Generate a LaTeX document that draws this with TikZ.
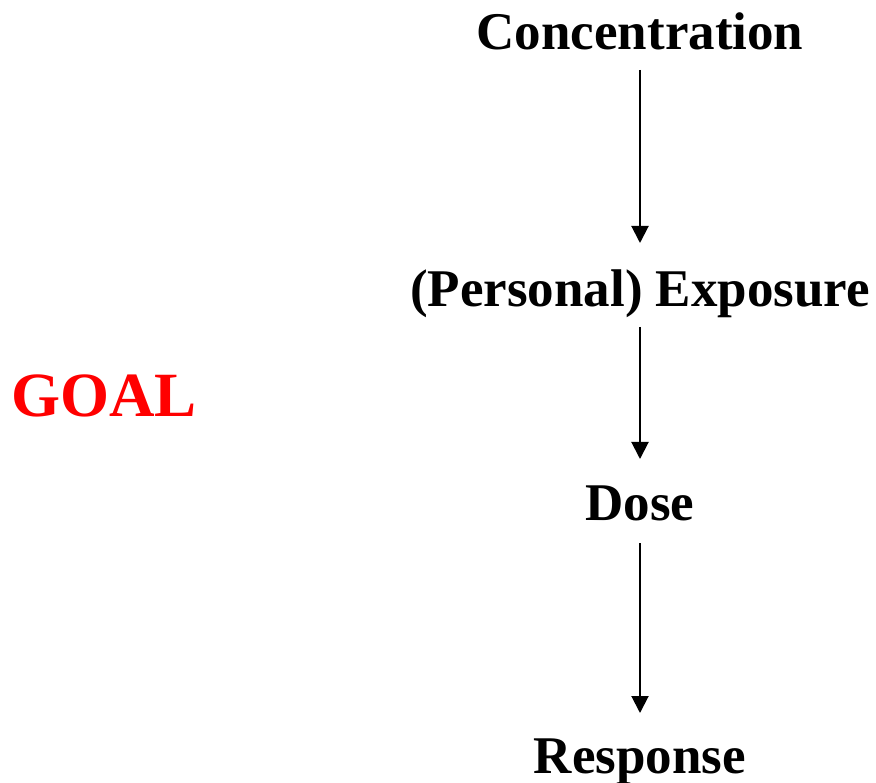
\documentclass[tikz,border=0pt]{standalone}
\usepackage{fontspec}
\setmainfont{Liberation Serif}
\usetikzlibrary{arrows.meta}
\begin{document}
\begin{tikzpicture}[x=1pt,y=-1pt,
  lbl/.style={font=\fontsize{53}{60}\selectfont\bfseries, anchor=base, inner sep=0pt},
  arr/.style={draw, line width=2pt, -{Triangle[width=17pt,length=17pt]}}]
\useasboundingbox (0,0) rectangle (876,783);
\node[lbl] (conc) at (640,50) {Concentration};
\node[lbl] (expo) at (640,307) {(Personal) Exposure};
\node[lbl] (dose) at (640,520) {Dose};
\node[lbl] (resp) at (640,773) {Response};
\node[lbl, font=\fontsize{63}{70}\selectfont\bfseries, text=red] (goal) at (104,417) {GOAL};
\coordinate (a1s) at (640,70);  \coordinate (a1e) at (640,243);
\coordinate (a2s) at (640,327); \coordinate (a2e) at (640,459);
\coordinate (a3s) at (640,543); \coordinate (a3e) at (640,713);
\draw[arr] (a1s) -- (a1e);
\draw[arr] (a2s) -- (a2e);
\draw[arr] (a3s) -- (a3e);
\end{tikzpicture}
\end{document}
